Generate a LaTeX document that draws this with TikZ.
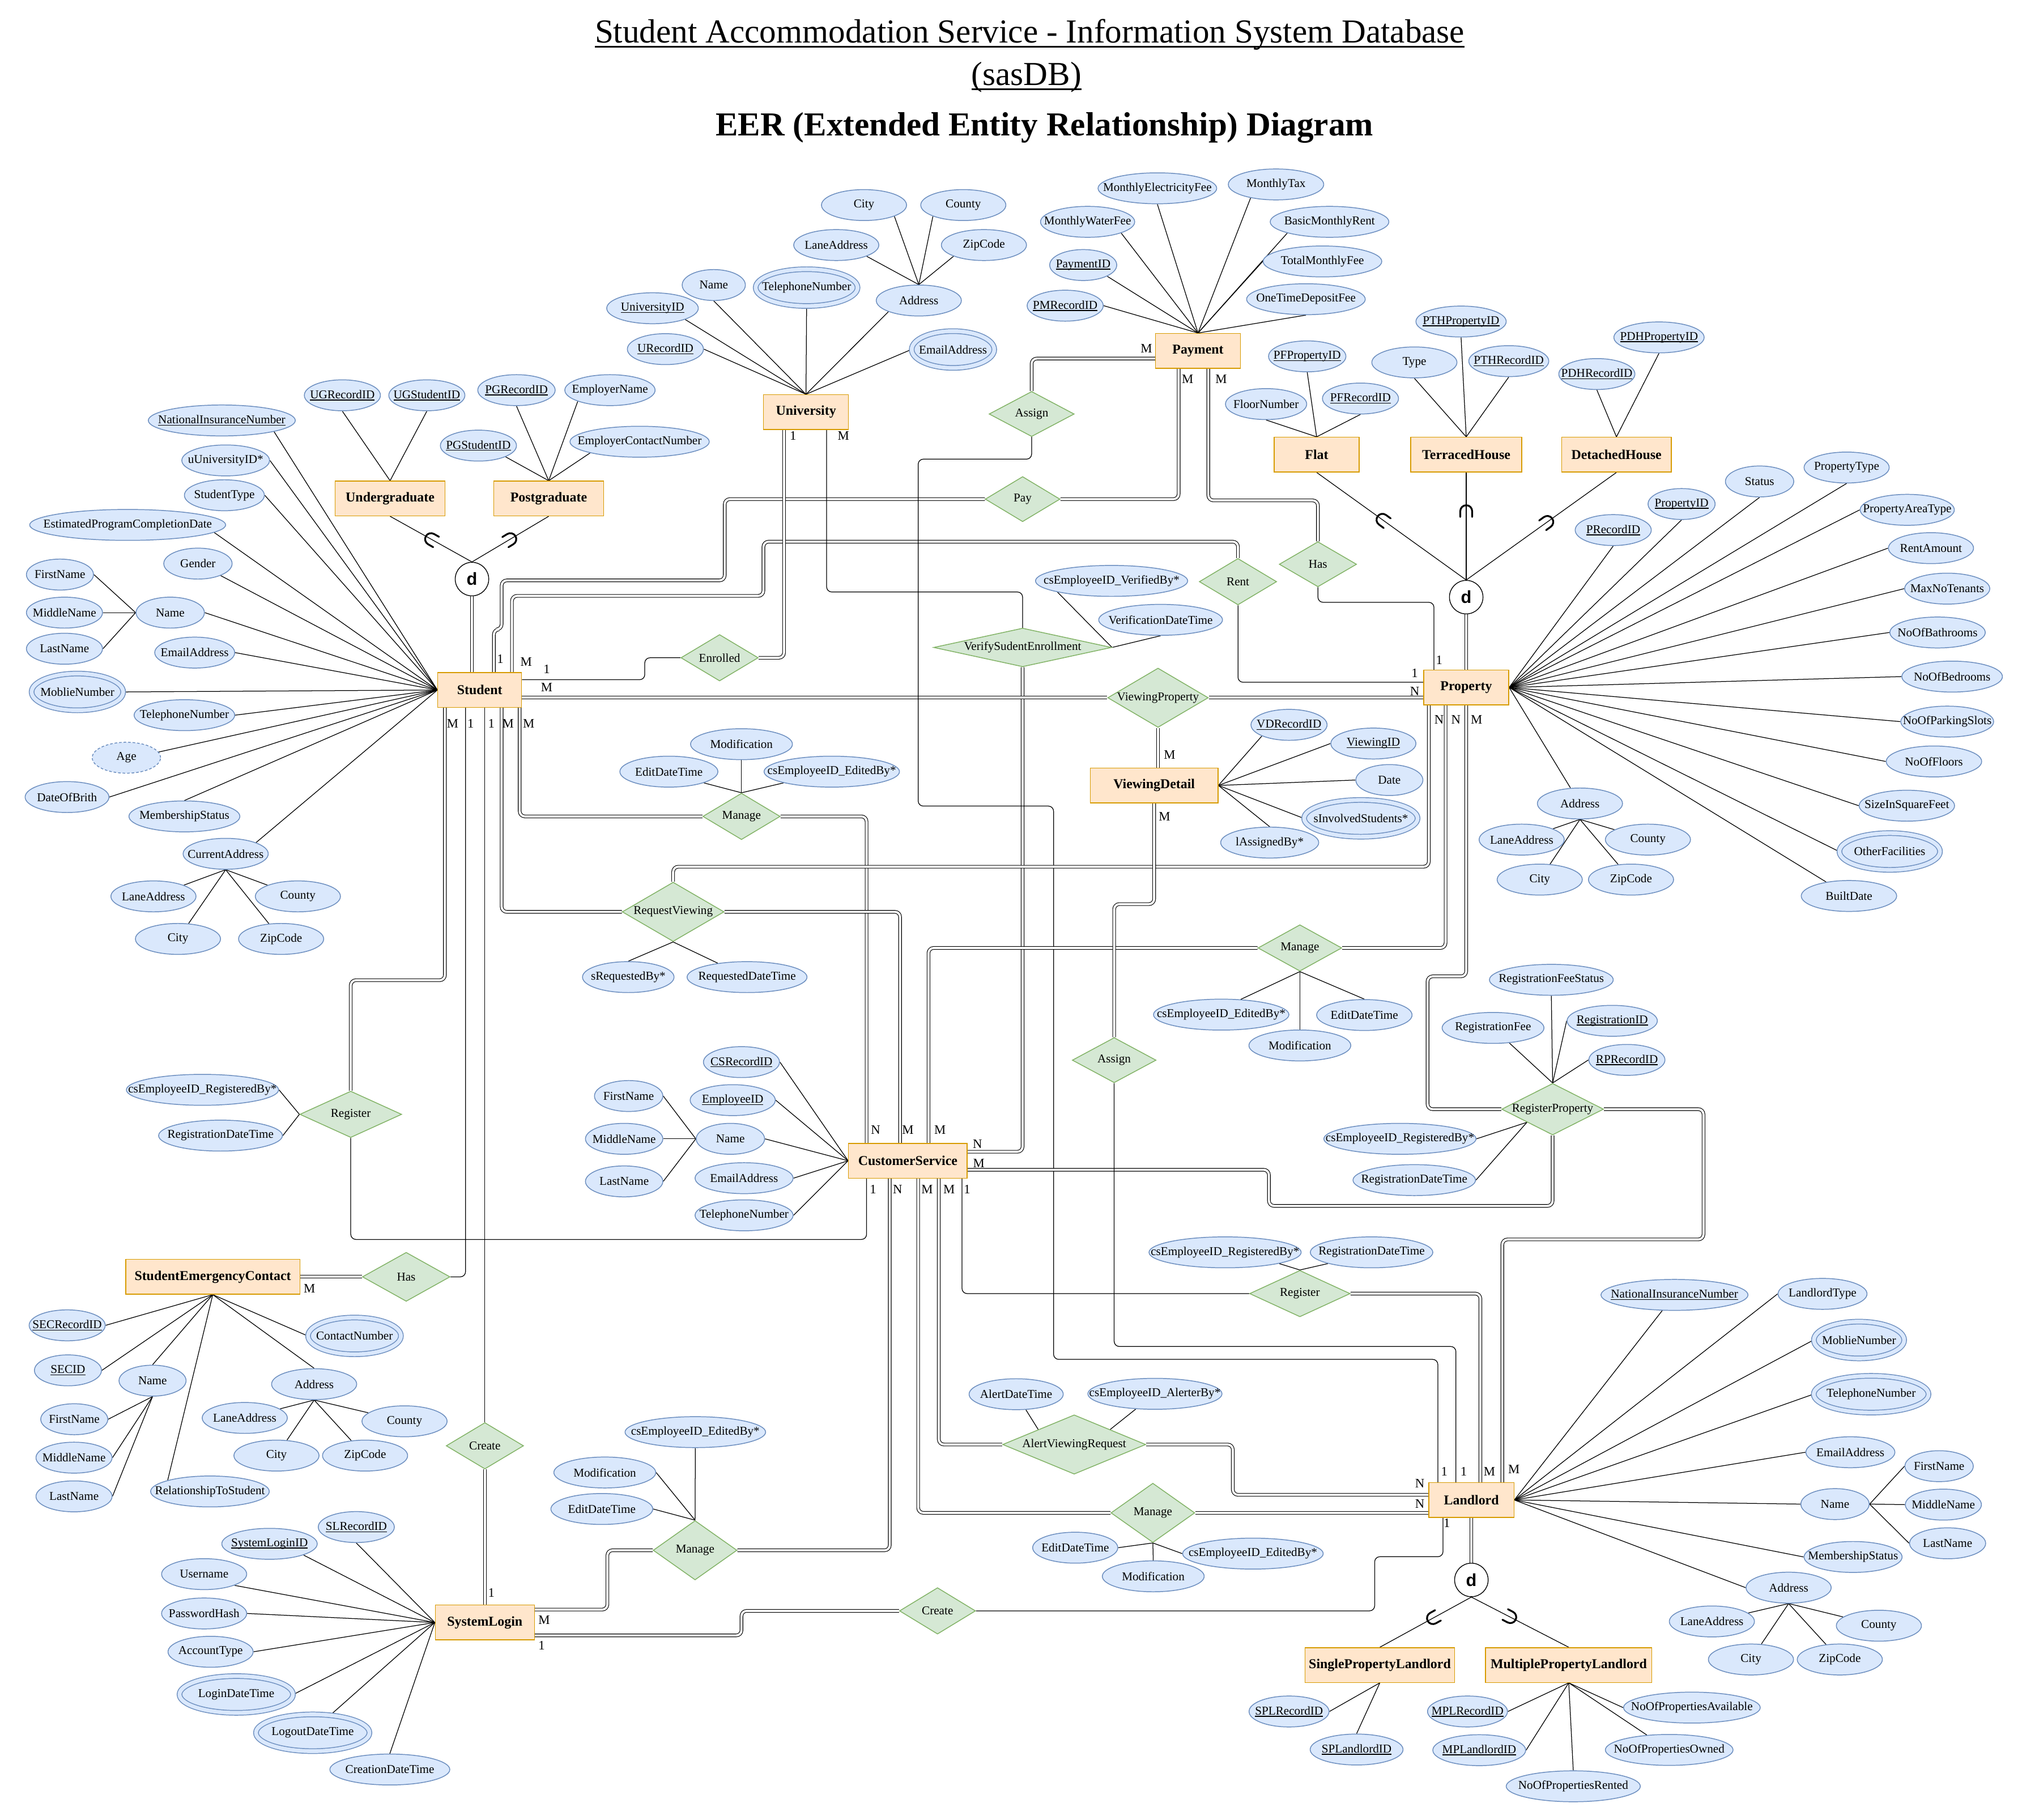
\documentclass[tikz,border=0pt]{standalone}
\usepackage{fontspec}
\setmainfont{Liberation Serif}
\newfontfamily\djfont{Liberation Sans}
\usetikzlibrary{shapes.geometric,backgrounds}

\definecolor{entfill}{HTML}{FFE6CC}
\definecolor{entline}{HTML}{D79B00}
\definecolor{attfill}{HTML}{DAE8FC}
\definecolor{attline}{HTML}{6C8EBF}
\definecolor{relfill}{HTML}{D5E8D4}
\definecolor{relline}{HTML}{82B366}

% key attributes: rule just under the baseline
\newcommand\ul[1]{\setbox0\hbox{#1}\rlap{\rule[-1.5pt]{\wd0}{0.6pt}}\box0}
% heading underline
\newcommand\tul[1]{\setbox0\hbox{#1}\rlap{\rule[-3.4pt]{\wd0}{1.1pt}}\box0}

\tikzset{
  zerow/.style={execute at begin node={\hbox to 0pt\bgroup\hss},
                execute at end node={\hss\egroup}},
  ent/.style={rectangle, draw=entline, fill=entfill, line width=0.6pt,
              minimum width=#1, minimum height=27, inner sep=0pt,
              font=\fontsize{10.5}{12}\selectfont\bfseries, zerow},
  att/.style={ellipse, draw=attline, fill=attfill, line width=0.65pt,
              minimum width=#1, minimum height=24, inner sep=0pt,
              font=\fontsize{9.3}{11}\selectfont, zerow},
  matt/.style={att=#1, minimum height=28.5, double=attfill, double distance=3pt},
  datt/.style={att=#1, dash pattern=on 2pt off 1.5pt},
  rel/.style 2 args={diamond, draw=relline, fill=relfill, line width=0.65pt,
              minimum width=#1, minimum height=#2, inner sep=0pt,
              font=\fontsize{9.3}{11}\selectfont, zerow},
  dj/.style={circle, draw, fill=white, line width=0.6pt, minimum size=26,
             inner sep=0pt, font=\djfont\fontsize{13.5}{13.5}\selectfont\bfseries},
  al/.style={line width=0.55pt},
  one/.style={line width=0.55pt, rounded corners=4pt},
  tot/.style={line width=0.5pt, double, double distance=1.7pt, rounded corners=4pt},
  card/.style={font=\fontsize{10}{12}\selectfont, inner sep=0pt},
  subm/.style={line width=1.4pt, line cap=round},
}
% subset mark: a U opening towards the specialisation circle
\newcommand\subsetmark[2]{%
  \draw[subm, shift={(#1)}, rotate=#2] (4.5,4.6) -- (0,4.6)
    arc[start angle=90, end angle=270, radius=4.6] -- (4.5,-4.6);}

\begin{document}
\begin{tikzpicture}[x=1pt,y=-1pt]
\useasboundingbox (0,0) rectangle (1568,1411);

% ---------------- heading ----------------
\node[font=\fontsize{26}{30}\selectfont] (title1) at (798.5,27)
  {\tul{Student Accommodation Service - Information System Database}};
\node[font=\fontsize{26}{30}\selectfont] (title2) at (796,60) {\tul{(sasDB)}};
\node[font=\fontsize{26}{30}\selectfont\bfseries] (title3) at (810,99)
  {EER (Extended Entity Relationship) Diagram};

% ---------------- entities ----------------
\node[ent=65]  (st)  at (372,535)     {Student};
\node[ent=85]  (ug)  at (302.5,386.5) {Undergraduate};
\node[ent=85]  (pg)  at (425.5,386.5) {Postgraduate};
\node[ent=66]  (un)  at (625,319.5)   {University};
\node[ent=66]  (pm)  at (929,272)     {Payment};
\node[ent=66]  (fl)  at (1021,352.5)  {Flat};
\node[ent=86]  (th)  at (1137,352.5)  {TerracedHouse};
\node[ent=85]  (dh)  at (1253.5,352.5){DetachedHouse};
\node[ent=66]  (pr)  at (1137,533)    {Property};
\node[ent=99]  (vd)  at (895,609)     {ViewingDetail};
\node[ent=92]  (cs)  at (704,900)     {CustomerService};
\node[ent=135] (sec) at (165,990)     {StudentEmergencyContact};
\node[ent=77]  (sl)  at (376,1258)    {SystemLogin};
\node[ent=66]  (ll)  at (1141,1163)   {Landlord};
\node[ent=116] (spl) at (1070,1291)   {SinglePropertyLandlord};
\node[ent=129] (mpl) at (1216.5,1291) {MultiplePropertyLandlord};

% disjoint specialisation circles
\node[dj] (dS) at (366,449)   {d};
\node[dj] (dP) at (1137,463)  {d};
\node[dj] (dL) at (1141,1225) {d};

% ---------------- relationships ----------------
\node[rel={66}{35}]  (as1)  at (800,321)    {Assign};
\node[rel={58}{35}]  (pay)  at (793,387)    {Pay};
\node[rel={60}{36}]  (rent) at (960,451)    {Rent};
\node[rel={60}{35}]  (has1) at (1022,437.5) {Has};
\node[rel={60}{36}]  (enr)  at (558,510)    {Enrolled};
\node[rel={138}{30}] (vf)   at (793,502)    {VerifySudentEnrollment};
\node[rel={78}{46}]  (vp)   at (898,541)    {ViewingProperty};
\node[rel={60}{36}]  (m1)   at (575,633)    {Manage};
\node[rel={79}{46}]  (rv)   at (522,707)    {RequestViewing};
\node[rel={65}{36}]  (m2)   at (1008,735)   {Manage};
\node[rel={65}{35}]  (as2)  at (864,822)    {Assign};
\node[rel={79}{40}]  (rp)   at (1204,860)   {RegisterProperty};
\node[rel={79}{36}]  (r1)   at (272,864)    {Register};
\node[rel={68}{38}]  (h2)   at (315,990)    {Has};
\node[rel={78}{36}]  (r2)   at (1008,1003)  {Register};
\node[rel={111}{46}] (avr)  at (833,1120)   {AlertViewingRequest};
\node[rel={65}{46}]  (m3)   at (894,1173)   {Manage};
\node[rel={60}{36}]  (c1)   at (376,1121)   {Create};
\node[rel={65}{46}]  (m4)   at (539,1202)   {Manage};
\node[rel={59}{36}]  (c2)   at (727,1249)   {Create};

% ---------------- attributes: Student ----------------
\node[att=114] (s_nin)   at (172,326)   {\ul{NationalInsuranceNumber}};
\node[att=68]  (s_uid)   at (175,357)   {uUniversityID*};
\node[att=62]  (s_type)  at (174,384)   {StudentType};
\node[att=152] (s_epcd)  at (99,407)    {EstimatedProgramCompletionDate};
\node[att=53]  (s_gen)   at (153.5,437) {Gender};
\node[att=53]  (s_name)  at (132,475)   {Name};
\node[att=52]  (s_fn)    at (46.5,445.5){FirstName};
\node[att=59]  (s_mn)    at (50,475)    {MiddleName};
\node[att=59]  (s_ln)    at (50,503)    {LastName};
\node[att=62]  (s_email) at (151,506)   {EmailAddress};
\node[matt=71] (s_mob)   at (60,536.5)  {MoblieNumber};
\node[att=78]  (s_tel)   at (143,554.5) {TelephoneNumber};
\node[datt=53] (s_age)   at (98,587.5)  {Age};
\node[att=65]  (s_dob)   at (52,618)    {DateOfBrith};
\node[att=86]  (s_mem)   at (143,633)   {MembershipStatus};
\node[att=66]  (s_cad)   at (175,662)   {CurrentAddress};
\node[att=66]  (s_lane)  at (119,695)   {LaneAddress};
\node[att=66]  (s_county)at (231,695)   {County};
\node[att=66]  (s_city)  at (138,728)   {City};
\node[att=66]  (s_zip)   at (218,728)   {ZipCode};

% Undergraduate / Postgraduate
\node[att=59]  (ug_rid) at (265.5,306.5) {\ul{UGRecordID}};
\node[att=59]  (ug_sid) at (331,306.5)   {\ul{UGStudentID}};
\node[att=60]  (pg_rid) at (400.5,302.5) {\ul{PGRecordID}};
\node[att=70]  (pg_emp) at (473,302.5)   {EmployerName};
\node[att=59]  (pg_sid) at (371,345.5)   {\ul{PGStudentID}};
\node[att=108] (pg_ecn) at (496,342.5)   {EmployerContactNumber};

% University
\node[att=71]  (u_uid)    at (506,239)   {\ul{UniversityID}};
\node[att=59]  (u_rid)    at (516,270.7) {\ul{URecordID}};
\node[att=49]  (u_name)   at (553.5,221) {Name};
\node[matt=79] (u_tel)    at (625.5,223) {TelephoneNumber};
\node[att=66]  (u_addr)   at (712.5,233) {Address};
\node[att=66]  (u_city)   at (670,159)   {City};
\node[att=66]  (u_county) at (747,159)   {County};
\node[att=66]  (u_lane)   at (648.5,190) {LaneAddress};
\node[att=66]  (u_zip)    at (763,190)   {ZipCode};
\node[matt=64] (u_email)  at (739,271)   {EmailAddress};

% Payment
\node[att=92] (p_mef) at (897.5,146)   {MonthlyElectricityFee};
\node[att=74] (p_tax) at (989.5,143)   {MonthlyTax};
\node[att=73] (p_mwf) at (843.4,172)   {MonthlyWaterFee};
\node[att=92] (p_bmr) at (1031,172)    {BasicMonthlyRent};
\node[att=52] (p_id)  at (840,205.5)   {\ul{PaymentID}};
\node[att=92] (p_tmf) at (1025.5,202.7){TotalMonthlyFee};
\node[att=59] (p_rid) at (826,237)     {\ul{PMRecordID}};
\node[att=92] (p_otd) at (1012.7,232)  {OneTimeDepositFee};

% Flat / TerracedHouse / DetachedHouse
\node[att=60] (f_pid)   at (1013.7,276.3) {\ul{PFPropertyID}};
\node[att=63] (f_floor) at (981.8,313.3)  {FloorNumber};
\node[att=59] (f_rid)   at (1055,309)     {\ul{PFRecordID}};
\node[att=70] (t_pid)   at (1133,249.3)   {\ul{PTHPropertyID}};
\node[att=66] (t_type)  at (1096.8,281)   {Type};
\node[att=62] (t_rid)   at (1170,280)     {\ul{PTHRecordID}};
\node[att=70] (d_pid)   at (1286.5,261.6) {\ul{PDHPropertyID}};
\node[att=59] (d_rid)   at (1238.3,290)   {\ul{PDHRecordID}};

% Property
\node[att=59]  (pr_rid)    at (1251,411)     {\ul{PRecordID}};
\node[att=52]  (pr_id)     at (1304,390.8)   {\ul{PropertyID}};
\node[att=53]  (pr_status) at (1364.5,373.3) {Status};
\node[att=66]  (pr_type)   at (1432,362.5)   {PropertyType};
\node[att=73]  (pr_area)   at (1479,395.3)   {PropertyAreaType};
\node[att=66]  (pr_rent)   at (1497.4,425)   {RentAmount};
\node[att=66]  (pr_max)    at (1510,456.4)   {MaxNoTenants};
\node[att=74]  (pr_bath)   at (1502.5,490.4) {NoOfBathrooms};
\node[att=78]  (pr_bed)    at (1513.8,524.6) {NoOfBedrooms};
\node[att=72]  (pr_park)   at (1510,559.5)   {NoOfParkingSlots};
\node[att=74]  (pr_floors) at (1499.7,590.4) {NoOfFloors};
\node[att=74]  (pr_size)   at (1478.7,624.7) {SizeInSquareFeet};
\node[matt=78] (pr_other)  at (1465.4,660.2) {OtherFacilities};
\node[att=74]  (pr_built)  at (1433.8,694.7) {BuiltDate};
\node[att=66]  (pr_addr)   at (1225.2,623)   {Address};
\node[att=66]  (pr_lane)   at (1180,651)     {LaneAddress};
\node[att=66]  (pr_county) at (1277.9,651)   {County};
\node[att=66]  (pr_city)   at (1194,682)     {City};
\node[att=66]  (pr_zip)    at (1264.8,682)   {ZipCode};

% ViewingDetail
\node[att=59]  (vd_rid)  at (999.6,562)    {\ul{VDRecordID}};
\node[att=66]  (vd_vid)  at (1065,576.5)   {\ul{ViewingID}};
\node[att=52]  (vd_date) at (1077.4,604.8) {Date};
\node[matt=88] (vd_inv)  at (1055.3,634.5) {sInvolvedStudents*};
\node[att=76]  (vd_asg)  at (984.6,653.3)  {lAssignedBy*};

% relationship attributes
\node[att=79]  (m1_mod) at (575,577)     {Modification};
\node[att=76]  (m1_edt) at (518.7,598.3) {EditDateTime};
\node[att=105] (m1_by)  at (645,598.3)   {csEmployeeID\_EditedBy*};
\node[att=71]  (rv_by)  at (487.2,757.6) {sRequestedBy*};
\node[att=93]  (rv_dt)  at (579.3,757.6) {RequestedDateTime};
\node[att=118] (vf_by)  at (862,450.4)   {csEmployeeID\_VerifiedBy*};
\node[att=96]  (vf_dt)  at (900,480.6)   {VerificationDateTime};
\node[att=105] (m2_by)  at (947,786.7)   {csEmployeeID\_EditedBy*};
\node[att=74]  (m2_edt) at (1058,787)    {EditDateTime};
\node[att=79]  (m2_mod) at (1008,810.6)  {Modification};
\node[att=96]  (rp_fs)  at (1203,759.7)  {RegistrationFeeStatus};
\node[att=79]  (rp_fee) at (1157.8,797)  {RegistrationFee};
\node[att=70]  (rp_id)  at (1250.2,791.5){\ul{RegistrationID}};
\node[att=59]  (rp_rid) at (1261.6,821.8){\ul{RPRecordID}};
\node[att=118] (rp_by)  at (1085.6,883)  {csEmployeeID\_RegisteredBy*};
\node[att=95]  (rp_dt)  at (1096.7,915)  {RegistrationDateTime};
\node[att=118] (r1_by)  at (157,845)     {csEmployeeID\_RegisteredBy*};
\node[att=96]  (r1_dt)  at (171,880.5)   {RegistrationDateTime};
\node[att=118] (r2_by)  at (950,971)     {csEmployeeID\_RegisteredBy*};
\node[att=95]  (r2_dt)  at (1063.6,971)  {RegistrationDateTime};
\node[att=73]  (avr_dt) at (788,1081)    {AlertDateTime};
\node[att=104] (avr_by) at (895.6,1080.7){csEmployeeID\_AlerterBy*};
\node[att=66]  (m3_edt) at (833.8,1200)  {EditDateTime};
\node[att=79]  (m3_mod) at (894.3,1222.2){Modification};
\node[att=109] (m3_by)  at (971.6,1204.6){csEmployeeID\_EditedBy*};
\node[att=109] (m4_by)  at (539.2,1110.4){csEmployeeID\_EditedBy*};
\node[att=79]  (m4_mod) at (469,1141.7)  {Modification};
\node[att=79]  (m4_edt) at (466.7,1170)  {EditDateTime};

% CustomerService
\node[att=59] (cs_rid)   at (575,823.5)   {\ul{CSRecordID}};
\node[att=66] (cs_eid)   at (568.2,853)   {\ul{EmployeeID}};
\node[att=53] (cs_name)  at (566.4,883)   {Name};
\node[att=53] (cs_fn)    at (487.5,849.8) {FirstName};
\node[att=60] (cs_mn)    at (484,883)     {MiddleName};
\node[att=60] (cs_ln)    at (484,916)     {LastName};
\node[att=76] (cs_email) at (577,913.5)   {EmailAddress};
\node[att=76] (cs_tel)   at (577,942.3)   {TelephoneNumber};

% Landlord
\node[att=114] (l_nin)    at (1298.5,1004)   {\ul{NationalInsuranceNumber}};
\node[att=69]  (l_type)   at (1413.3,1003.2) {LandlordType};
\node[matt=70] (l_mob)    at (1441.6,1039)   {MoblieNumber};
\node[matt=89] (l_tel)    at (1451,1081)     {TelephoneNumber};
\node[att=69]  (l_email)  at (1434.9,1126)   {EmailAddress};
\node[att=53]  (l_name)   at (1423,1166.2)   {Name};
\node[att=53]  (l_fn)     at (1503.7,1136.8) {FirstName};
\node[att=59]  (l_mn)     at (1507,1166.6)   {MiddleName};
\node[att=59]  (l_ln)     at (1510.3,1196.6) {LastName};
\node[att=76]  (l_mem)    at (1437,1207.2)   {MembershipStatus};
\node[att=66]  (l_addr)   at (1387,1231)     {Address};
\node[att=66]  (l_lane)   at (1327.5,1257.2) {LaneAddress};
\node[att=66]  (l_county) at (1457,1260.5)   {County};
\node[att=66]  (l_city)   at (1357.8,1286.7) {City};
\node[att=66]  (l_zip)    at (1426.7,1286.7) {ZipCode};

% Single / Multiple property landlords
\node[att=62]  (spl_rid)  at (999.6,1327)   {\ul{SPLRecordID}};
\node[att=72]  (spl_lid)  at (1052,1356.5)  {\ul{SPLandlordID}};
\node[att=62]  (mpl_rid)  at (1138,1327)    {\ul{MPLRecordID}};
\node[att=72]  (mpl_lid)  at (1147.1,1357)  {\ul{MPLandlordID}};
\node[att=104] (mpl_rent) at (1220,1385)    {NoOfPropertiesRented};
\node[att=99]  (mpl_own)  at (1294.4,1356.8){NoOfPropertiesOwned};
\node[att=106] (mpl_av)   at (1312,1324)    {NoOfPropertiesAvailable};

% StudentEmergencyContact
\node[att=59]  (sec_rid)    at (52.1,1027.6)  {\ul{SECRecordID}};
\node[att=52]  (sec_id)     at (52.7,1062.5)  {\ul{SECID}};
\node[att=52]  (sec_name)   at (118.3,1070.5) {Name};
\node[att=52]  (sec_fn)     at (57.6,1100.4)  {FirstName};
\node[att=59]  (sec_mn)     at (57.4,1130.2)  {MiddleName};
\node[att=59]  (sec_ln)     at (57.4,1160.2)  {LastName};
\node[att=92]  (sec_rel)    at (162.8,1156.4) {RelationshipToStudent};
\node[att=66]  (sec_addr)   at (243.6,1073.2) {Address};
\node[att=66]  (sec_lane)   at (189.8,1099.4) {LaneAddress};
\node[att=66]  (sec_county) at (313.7,1102)   {County};
\node[att=66]  (sec_city)   at (214.4,1128.6) {City};
\node[att=66]  (sec_zip)    at (283.1,1128.6) {ZipCode};
\node[matt=72] (sec_cn)     at (274.9,1035.8) {ContactNumber};

% SystemLogin
\node[att=59]  (sl_rid)  at (276.3,1184)   {\ul{SLRecordID}};
\node[att=74]  (sl_id)   at (209,1197)     {\ul{SystemLoginID}};
\node[att=66]  (sl_user) at (158.3,1220.5) {Username};
\node[att=66]  (sl_pw)   at (158.3,1251)   {PasswordHash};
\node[att=66]  (sl_acc)  at (163.3,1280.7) {AccountType};
\node[matt=88] (sl_in)   at (183.2,1313.8) {LoginDateTime};
\node[matt=88] (sl_out)  at (242.5,1343.5) {LogoutDateTime};
\node[att=93]  (sl_cre)  at (302.3,1372)   {CreationDateTime};

% ---------------- connectors (behind the shapes) ----------------
\begin{scope}[on background layer]
\fill[white] (0,0) rectangle (1568,1411);

% attribute links
\foreach \a in {s_nin.south east, s_uid.east, s_type.east, s_epcd.-5, s_gen,
                s_name.east, s_email.east, s_mob.east, s_tel.east, s_age.10,
                s_dob.east, s_mem.north, s_cad.north east}
  \draw[al] (\a) -- (st.west);
\foreach \a in {s_fn.east, s_mn.east, s_ln.east} \draw[al] (\a) -- (s_name.west);
\foreach \a in {s_lane, s_county, s_city, s_zip} \draw[al] (\a) -- (s_cad.south);
\foreach \a in {ug_rid.south, ug_sid.south} \draw[al] (\a) -- (ug.north);
\foreach \a in {pg_rid.south, pg_emp.south west, pg_sid.south east, pg_ecn.south west}
  \draw[al] (\a) -- (pg.north);
\foreach \a in {u_uid.south east, u_rid.east, u_name.south, u_tel.south,
                u_addr.south west, u_email.west}
  \draw[al] (\a) -- (un.north);
\foreach \a in {u_city.south east, u_county.south west, u_lane.south east, u_zip.south west}
  \draw[al] (\a) -- (u_addr.north);
\foreach \a in {p_mef.south, p_tax.-152, p_mwf.south east, p_bmr.south west,
                p_id.south east, p_tmf.west, p_rid.east, p_otd.south}
  \draw[al] (\a) -- (pm.north);
\foreach \a in {f_pid.south, f_floor.south, f_rid.south} \draw[al] (\a) -- (fl.north);
\foreach \a in {t_pid.south, t_type.south, t_rid.south} \draw[al] (\a) -- (th.north);
\foreach \a in {d_pid.south, d_rid.south} \draw[al] (\a) -- (dh.north);
\foreach \a in {pr_rid.south, pr_id.south, pr_status.south, pr_type.south,
                pr_area.west, pr_rent.west, pr_max.west, pr_bath.west, pr_bed.west,
                pr_park.west, pr_floors.west, pr_size.west, pr_other.west,
                pr_built, pr_addr}
  \draw[al] (\a) -- (pr.east);
\foreach \a in {pr_lane, pr_county, pr_city, pr_zip} \draw[al] (\a) -- (pr_addr.south);
\foreach \a in {vd_rid.south west, vd_vid.west, vd_date.west, vd_inv.west, vd_asg.north}
  \draw[al] (\a) -- (vd.east);
\foreach \a in {m1_mod.south, m1_edt.south east, m1_by.south west} \draw[al] (\a) -- (m1.north);
\foreach \a in {rv_by.north, rv_dt} \draw[al] (\a) -- (rv.south);
\draw[al] (vf_by.south west) -- (vf.east);
\draw[al] (vf_dt.south) -- (vf.east);
\foreach \a in {m2_by.38, m2_edt.north, m2_mod.north} \draw[al] (\a) -- (m2.south);
\foreach \a in {rp_fs.south, rp_fee, rp_id.west, rp_rid.west} \draw[al] (\a) -- (rp.north);
\foreach \a in {rp_by.east, rp_dt.east} \draw[al] (\a) -- (rp.south west);
\foreach \a in {r1_by.east, r1_dt.east} \draw[al] (\a) -- (r1.west);
\foreach \a in {r2_by.south east, r2_dt.south west} \draw[al] (\a) -- (r2.north);
\draw[al] (avr_dt) -- (avr.north west);
\draw[al] (avr_by) -- (avr.north east);
\foreach \a in {m3_edt.east, m3_mod.north, m3_by.west} \draw[al] (\a) -- (m3.south);
\foreach \a in {m4_by.south, m4_mod.east, m4_edt.east} \draw[al] (\a) -- (m4.north);
\foreach \a in {cs_rid.east, cs_eid.east, cs_name.east, cs_email.east, cs_tel.east}
  \draw[al] (\a) -- (cs.west);
\foreach \a in {cs_fn.east, cs_mn.east, cs_ln.east} \draw[al] (\a) -- (cs_name.west);
\foreach \a in {l_nin, l_type.west, l_mob.west, l_tel.west, l_email.west,
                l_name.west, l_mem.west, l_addr.west}
  \draw[al] (\a) -- (ll.east);
\foreach \a in {l_fn.west, l_mn.west, l_ln.west} \draw[al] (\a) -- (l_name.east);
\foreach \a in {l_lane, l_county, l_city, l_zip} \draw[al] (\a) -- (l_addr.south);
\foreach \a in {spl_rid.east, spl_lid.north} \draw[al] (\a) -- (spl.south);
\foreach \a in {mpl_rid.east, mpl_lid.east, mpl_rent.north, mpl_own, mpl_av.west}
  \draw[al] (\a) -- (mpl.south);
\foreach \a in {sec_rid.east, sec_id.east, sec_name.north, sec_rel.north west,
                sec_addr.north, sec_cn.west}
  \draw[al] (\a) -- (sec.south);
\foreach \a in {sec_fn.east, sec_mn.east, sec_ln.east} \draw[al] (\a) -- (sec_name.south);
\foreach \a in {sec_lane, sec_county, sec_city, sec_zip} \draw[al] (\a) -- (sec_addr.south);
\foreach \a in {sl_rid.south, sl_id.south east, sl_user.south east, sl_pw.east,
                sl_acc.east, sl_in.east, sl_out.45, sl_cre.north}
  \draw[al] (\a) -- (sl.west);

% specialisations
\draw[tot] ([xshift=-6pt]st.north) -- (dS.south);
\draw[al] (ug.south) -- (dS.north) coordinate[pos=0.5] (mk1);
\draw[al] (pg.south) -- (dS.north) coordinate[pos=0.5] (mk2);
\draw[tot] (pr.north) -- (dP.south);
\draw[al] (fl.south) -- (dP.north) coordinate[pos=0.44] (mk3);
\draw[al] (th.south) -- (dP.north) coordinate[pos=0.36] (mk4);
\draw[al] (dh.south) -- (dP.north) coordinate[pos=0.46] (mk5);
\draw[tot] (ll.south) -- (dL.north);
\draw[al] (spl.north) -- (dL.south) coordinate[pos=0.58] (mk6);
\draw[al] (mpl.north) -- (dL.south) coordinate[pos=0.6] (mk7);

% Student -- Pay -- Payment
\draw[tot] ([xshift=11pt]st.north) -- (383,488) -- (389,488) |- (562,450) |- (pay.west);
\draw[tot] (pay.east) -| ([xshift=-15pt]pm.south);
% Student -- Rent -- Property
\draw[tot] ([xshift=25pt]st.north) |- (592,462) -- (592,420) -| (rent.north);
\draw[one] (rent.south) |- ([yshift=4pt]pr.west);
% Student -- Enrolled -- University
\draw[one] ([yshift=8pt]st.east) -| (500,510) -- (enr.west);
\draw[tot] (enr.east) -| ([xshift=-17pt]un.south);
% University -- VerifySudentEnrollment -- CustomerService
\draw[one] ([xshift=16pt]un.south) |- (793,459) -- (vf.north);
\draw[tot] (vf.south) |- ([yshift=7pt]cs.east);
% Student -- ViewingProperty -- Property / ViewingDetail
\draw[tot] ([yshift=-6pt]st.east) -- (vp.west);
\draw[tot] (vp.east) -- ([yshift=-8pt]pr.west);
\draw[tot] (vp.south) -- ([xshift=3pt]vd.north);
% Payment -- Assign -- Landlord
\draw[tot] ([yshift=-6pt]pm.west) -| (as1.north);
\draw[one] (as1.south) |- (712,356) |- (817,625) |- (1115,1054) -- ([xshift=-26pt]ll.north);
% Payment -- Has -- Property
\draw[tot] ([xshift=8pt]pm.south) |- (1022,388) -- (has1.north);
\draw[one] (has1.south) |- (1112,467) -- ([xshift=-25pt]pr.north);
% Student -- Manage -- CustomerService
\draw[tot] (m1.west) -| ([xshift=31pt]st.south);
\draw[tot] (m1.east) -| ([xshift=-32pt]cs.north);
% RequestViewing (Student, CustomerService, Property)
\draw[tot] (rv.west) -| ([xshift=17pt]st.south);
\draw[tot] (rv.east) -| ([xshift=-6pt]cs.north);
\draw[tot] (rv.north) -- (522,672) -| ([xshift=-29pt]pr.south);
% Property -- Manage -- CustomerService
\draw[tot] (m2.west) -| ([xshift=16pt]cs.north);
\draw[tot] (m2.east) -| ([xshift=-16pt]pr.south);
% RegisterProperty (Property, CustomerService, Landlord)
\draw[tot] (rp.west) -| (1107,757) -| (pr.south);
\draw[tot] (rp.south) |- (984,935) |- ([yshift=-7pt]cs.east);
\draw[tot] (rp.east) -| (1321,961) -| ([xshift=24pt]ll.north);
% ViewingDetail -- Assign -- Landlord
\draw[tot] (vd.south) -- (895,701) -| (as2.north);
\draw[one] (as2.south) |- (1129,1044) -- ([xshift=-12pt]ll.north);
% Student -- Register -- CustomerService
\draw[tot] ([xshift=-27pt]st.south) |- (272,760) -- (r1.north);
\draw[one] (r1.south) |- (672,961) -- ([xshift=-32pt]cs.south);
% Student -- Has -- StudentEmergencyContact
\draw[tot] (h2.west) -- (sec.east);
\draw[one] (h2.east) -| ([xshift=-11pt]st.south);
% Student -- Create -- SystemLogin
\draw[one] ([xshift=4pt]st.south) -- (c1.north);
\draw[tot] (c1.south) -- (sl.north);
% CustomerService -- Manage -- SystemLogin
\draw[tot] (m4.east) -| ([xshift=-14pt]cs.south);
\draw[tot] (m4.west) -| (471,1248) -- ([yshift=10pt]sl.east);
% SystemLogin -- Create -- Landlord
\draw[tot] (c2.west) -| (575,1268) -- ([yshift=-10pt]sl.east);
\draw[one] (c2.east) -| (1066,1207) -| ([xshift=-22pt]ll.south);
% CustomerService -- Manage / AlertViewingRequest / Register -- Landlord
\draw[tot] ([xshift=8pt]cs.south) |- (m3.west);
\draw[tot] (m3.east) -- ([yshift=-10pt]ll.west);
\draw[tot] ([xshift=24pt]cs.south) |- (avr.west);
\draw[tot] (avr.east) -| (956,1159) -- ([yshift=4pt]ll.west);
\draw[one] ([xshift=42pt]cs.south) |- (r2.west);
\draw[tot] (r2.east) -| ([xshift=7pt]ll.north);
\end{scope}

% subset marks on the specialisation lines
\subsetmark{mk1}{-29.5}
\subsetmark{mk2}{-148.8}
\subsetmark{mk3}{-35.9}
\subsetmark{mk4}{-90}
\subsetmark{mk5}{-144.2}
\subsetmark{mk6}{29.1}
\subsetmark{mk7}{152.4}

% ---------------- cardinalities ----------------
\node[card] (k01) at (388,511)   {1};
\node[card] (k02) at (408,513)   {M};
\node[card] (k03) at (424,519)   {1};
\node[card] (k04) at (424,533)   {M};
\node[card] (k05) at (351,561)   {M};
\node[card] (k06) at (365,561)   {1};
\node[card] (k07) at (381,561)   {1};
\node[card] (k08) at (394,561)   {M};
\node[card] (k09) at (410,561)   {M};
\node[card] (k10) at (615,338)   {1};
\node[card] (k11) at (654,338)   {M};
\node[card] (k12) at (889,270)   {M};
\node[card] (k13) at (921,294)   {M};
\node[card] (k14) at (947,294)   {M};
\node[card] (k15) at (1116,512)  {1};
\node[card] (k16) at (1097,522)  {1};
\node[card] (k17) at (1097,536)  {N};
\node[card] (k18) at (1116,558)  {N};
\node[card] (k19) at (1129,558)  {N};
\node[card] (k20) at (1145,558)  {M};
\node[card] (k21) at (907,585)   {M};
\node[card] (k22) at (903,633)   {M};
\node[card] (k23) at (679,876)   {N};
\node[card] (k24) at (704,876)   {M};
\node[card] (k25) at (729,876)   {M};
\node[card] (k26) at (758,887)   {N};
\node[card] (k27) at (759,902)   {M};
\node[card] (k28) at (677,922)   {1};
\node[card] (k29) at (696,922)   {N};
\node[card] (k30) at (719,922)   {M};
\node[card] (k31) at (736,922)   {M};
\node[card] (k32) at (750,922)   {1};
\node[card] (k33) at (240,999)   {M};
\node[card] (k34) at (381,1235)  {1};
\node[card] (k35) at (422,1256)  {M};
\node[card] (k36) at (420,1276)  {1};
\node[card] (k37) at (1120,1141) {1};
\node[card] (k38) at (1135,1141) {1};
\node[card] (k39) at (1155,1141) {M};
\node[card] (k40) at (1174,1139) {M};
\node[card] (k41) at (1101,1150) {N};
\node[card] (k42) at (1101,1166) {N};
\node[card] (k43) at (1122,1181) {1};
\end{tikzpicture}
\end{document}
